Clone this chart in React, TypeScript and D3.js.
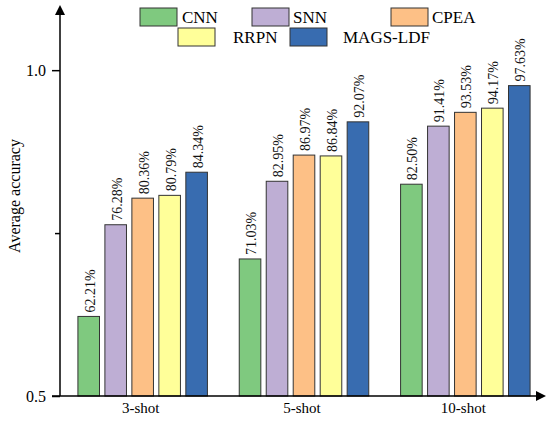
import React, { useEffect, useRef } from "react";
import * as d3 from "d3";

// shot settings on the x axis
const shots = ["3-shot", "5-shot", "10-shot"];
const methods = ["CNN", "SNN", "CPEA", "RRPN", "MAGS-LDF"];
const colors = ["#7FC97F", "#BEAED4", "#FDC086", "#FFFF99", "#386CB0"];

// accuracy (%) per method, one value per shot setting
const cnn = [62.21, 71.03, 82.5];
const snn = [76.28, 82.95, 91.41];
const cpea = [80.36, 86.97, 93.53];
const rrpn = [80.79, 86.84, 94.17];
const mags = [84.34, 92.07, 97.63];

const yMajorTicks = [0.5, 1.0];
const yMinorTicks = [0.75];

export default function App() {
  const ref = useRef<HTMLDivElement>(null);

  useEffect(() => {
    if (!ref.current) return;
    d3.select(ref.current).selectAll("*").remove();

    const width = 550;
    const height = 421;
    const font = "Liberation Serif";
    const series = [cnn, snn, cpea, rrpn, mags];

    const svg = d3
      .select(ref.current)
      .append("svg")
      .attr("width", width)
      .attr("height", height)
      .style("display", "block");

    const x0 = d3.scaleBand().domain(shots).range([60, 544]).paddingInner(0).paddingOuter(0);
    const x1 = d3
      .scaleBand()
      .domain(methods)
      .range([0, 129.5])
      .paddingInner(0.2);
    const groupOffset = (x0.bandwidth() - 129.5) / 2 + 2;
    const y = d3.scaleLinear().domain([0.5, 1.1]).range([396, 5]);

    const rows = shots.map((s, i) => ({
      shot: s,
      values: methods.map((m, j) => ({ method: m, color: colors[j], value: series[j][i] })),
    }));

    // bars
    const groups = svg
      .append("g")
      .selectAll("g")
      .data(rows)
      .enter()
      .append("g")
      .attr("transform", (d) => `translate(${x0(d.shot)! + groupOffset},0)`);

    groups
      .selectAll("rect")
      .data((d) => d.values)
      .enter()
      .append("rect")
      .attr("x", (d) => x1(d.method)!)
      .attr("y", (d) => y(d.value / 100))
      .attr("width", x1.bandwidth())
      .attr("height", (d) => y(0.5) - y(d.value / 100))
      .attr("fill", (d) => d.color)
      .attr("stroke", "#333")
      .attr("stroke-width", 1);

    groups
      .selectAll("text")
      .data((d) => d.values)
      .enter()
      .append("text")
      .attr("transform", (d) => `translate(${x1(d.method)! + x1.bandwidth() / 2 + 1},${y(d.value / 100) - 4}) rotate(-90)`)
      .attr("dy", "0.35em")
      .style("font-family", font)
      .style("font-size", "14px")
      .attr("fill", "#111")
      .text((d) => d.value.toFixed(2) + "%");

    // x axis
    const xAxis = svg
      .append("g")
      .attr("transform", `translate(0,${y(0.5)})`)
      .call(d3.axisBottom(x0).tickSize(0).tickPadding(6));
    xAxis.select(".domain").remove();
    xAxis.selectAll("text").style("font-size", "15px").style("font-family", font).attr("fill", "#000");

    // y axis
    const yAxis = svg
      .append("g")
      .attr("transform", "translate(60,0)")
      .call(d3.axisLeft(y).tickValues(yMajorTicks).tickSize(8).tickPadding(6).tickFormat(d3.format(".1f")));
    yAxis.select(".domain").remove();
    yAxis.selectAll("text").style("font-size", "16px").style("font-family", font).attr("fill", "#000");
    yAxis.selectAll("line").attr("stroke-width", 1.5);

    const yMinor = svg
      .append("g")
      .attr("transform", "translate(60,0)")
      .call(d3.axisLeft(y).tickValues(yMinorTicks).tickSize(5).tickFormat(() => ""));
    yMinor.select(".domain").remove();
    yMinor.selectAll("line").attr("stroke-width", 1.5);

    // axis lines with arrows
    svg.append("line").attr("x1", 60).attr("x2", 60).attr("y1", y(0.5)).attr("y2", 14).attr("stroke", "#000").attr("stroke-width", 1.5);
    svg.append("path").attr("d", "M60,5 L55,15 L65,15 Z").attr("fill", "#000");
    svg.append("line").attr("x1", 52).attr("x2", 537).attr("y1", y(0.5)).attr("y2", y(0.5)).attr("stroke", "#000").attr("stroke-width", 1.5);
    svg.append("path").attr("d", `M546,${y(0.5)} L536,${y(0.5) - 5} L536,${y(0.5) + 5} Z`).attr("fill", "#000");

    // y title
    svg
      .append("text")
      .attr("transform", "translate(14,196) rotate(-90)")
      .attr("text-anchor", "middle")
      .attr("dy", "0.35em")
      .style("font-family", font)
      .style("font-size", "16px")
      .attr("fill", "#000")
      .text("Average accuracy");

    // legend
    const legendPos = [
      { rx: 140, ry: 8, tx: 182 },
      { rx: 252, ry: 8, tx: 293 },
      { rx: 391, ry: 8, tx: 432 },
      { rx: 178, ry: 28, tx: 233 },
      { rx: 290, ry: 28, tx: 343 },
    ];
    const legend = svg.append("g");
    methods.forEach((m, i) => {
      const p = legendPos[i];
      legend
        .append("rect")
        .attr("x", p.rx)
        .attr("y", p.ry)
        .attr("width", 37)
        .attr("height", 18)
        .attr("fill", colors[i])
        .attr("stroke", "#333")
        .attr("stroke-width", 1);
      legend
        .append("text")
        .attr("x", p.tx)
        .attr("y", p.ry + 15)
        .style("font-family", font)
        .style("font-size", "17px")
        .attr("fill", "#000")
        .text(m);
    });
  }, []);

  return <div ref={ref} style={{ position: "absolute", left: 0, top: 0 }}></div>;
}
